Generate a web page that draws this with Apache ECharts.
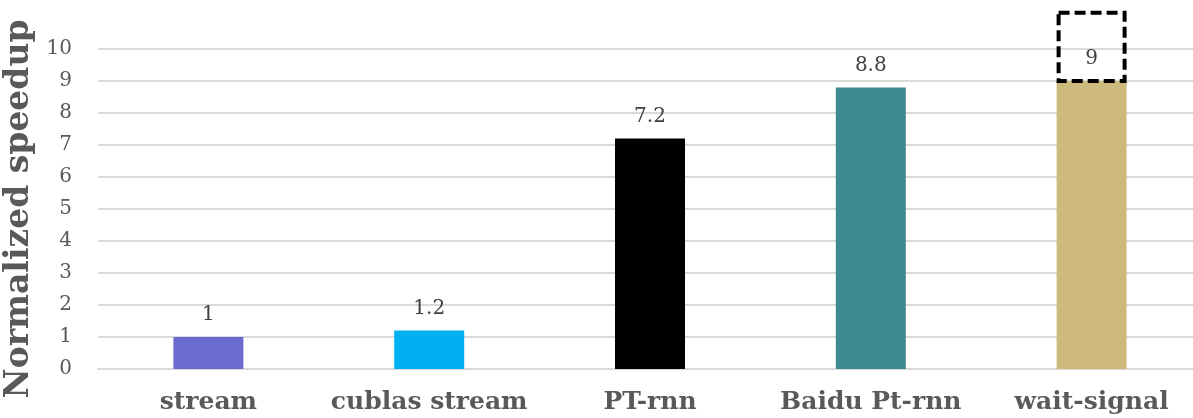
<!DOCTYPE html>
<html>
<head>
<meta charset="utf-8">
<style>
  html, body { margin: 0; padding: 0; background: #ffffff; }
  #chart { width: 1193px; height: 418px; }
</style>
<script src="https://cdn.jsdelivr.net/npm/echarts@6/dist/echarts.min.js"></script>
</head>
<body>
<div id="chart"></div>
<script>
// Speedup of each implementation, normalized to the plain stream version
const categories = ['stream', 'cublas stream', 'PT-rnn', 'Baidu Pt-rnn', 'wait-signal'];
const speedups = [1, 1.2, 7.2, 8.8, 9];
const barColors = ['#6B6ACE', '#00B0F0', '#000000', '#3D8B91', '#CDB97C'];
const yTicks = [0, 1, 2, 3, 4, 5, 6, 7, 8, 9, 10];
// Highlight box around the wait-signal result: [category index, bottom, top]
const highlightBox = [[4, 9, 11.13]];

const serif = '"DejaVu Serif", "Liberation Serif", Georgia, serif';

const chart = echarts.init(document.getElementById('chart'), null, { renderer: 'canvas' });

chart.setOption({
  backgroundColor: '#ffffff',
  animation: false,
  grid: {
    left: 98, top: 49, height: 320, width: 1104,
    containLabel: false,
    outerBoundsMode: 'none'
  },
  xAxis: {
    type: 'category',
    data: categories,
    axisTick: { show: false },
    axisLine: { show: true, lineStyle: { color: '#d9d9d9', width: 2 } },
    axisLabel: {
      interval: 0,
      margin: 21,
      color: '#595959',
      fontFamily: serif,
      fontWeight: 'bold',
      fontSize: 25
    }
  },
  yAxis: {
    type: 'value',
    min: yTicks[0],
    max: yTicks[yTicks.length - 1],
    interval: 1,
    name: 'Normalized speedup',
    nameLocation: 'middle',
    nameRotate: 90,
    nameGap: 51,
    nameTextStyle: {
      color: '#595959',
      fontFamily: serif,
      fontWeight: 'bold',
      fontSize: 33
    },
    axisLine: { show: false },
    axisTick: { show: false },
    axisLabel: {
      margin: 26,
      color: '#595959',
      fontFamily: serif,
      fontSize: 20
    },
    splitLine: { lineStyle: { color: '#d9d9d9', width: 2 } }
  },
  series: [
    {
      type: 'bar',
      barWidth: 70,
      data: speedups.map((v, i) => ({ value: v, itemStyle: { color: barColors[i] } })),
      label: {
        show: true,
        position: 'top',
        distance: 12,
        color: '#404040',
        fontFamily: serif,
        fontSize: 20
      },
      z: 2
    },
    {
      type: 'custom',
      clip: false,
      data: highlightBox,
      renderItem: function (params, api) {
        const bottom = api.coord([api.value(0), api.value(1)]);
        const top = api.coord([api.value(0), api.value(2)]);
        const w = 66;
        return {
          type: 'rect',
          shape: { x: bottom[0] - w / 2, y: top[1], width: w, height: bottom[1] - top[1] },
          style: { fill: 'rgba(0,0,0,0)', stroke: '#000000', lineWidth: 4, lineDash: [11, 5] }
        };
      },
      z: 3
    }
  ]
});
</script>
</body>
</html>
